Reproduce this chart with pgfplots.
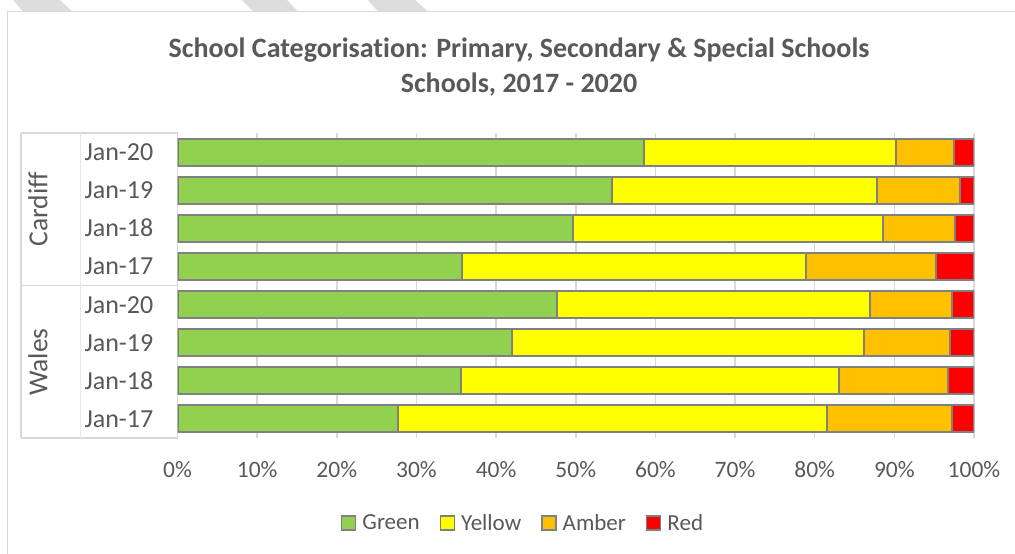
\documentclass[border=0pt]{standalone}
\usepackage{fontspec}
\setmainfont{Carlito}[Ligatures=NoCommon]
\usepackage{pgfplots}
\pgfplotsset{compat=1.18}
\definecolor{cgreen}{HTML}{92D050}
\definecolor{cyellow}{HTML}{FFFF00}
\definecolor{camber}{HTML}{FFC000}
\definecolor{cred}{HTML}{FF0000}
\definecolor{cborder}{HTML}{808080}
\definecolor{cgrid}{HTML}{D9D9D9}
\definecolor{ctext}{HTML}{595959}
\definecolor{cstripe}{HTML}{DDDDDD}
\begin{document}
\begin{tikzpicture}
\begin{scope}[x=1pt,y=1pt]
\useasboundingbox (0,0) rectangle (1015,554);
\fill[white] (0,0) rectangle (1015,554);
% stripes at the top edge
\fill[cstripe] (13,554) -- (60,554) -- (72,542.5) -- (23,542.5) -- cycle;
\fill[cstripe] (242,554) -- (287,554) -- (298,542.5) -- (253,542.5) -- cycle;
\fill[cstripe] (368,554) -- (415,554) -- (428,542.5) -- (378,542.5) -- cycle;
% chart frame
\draw[cgrid, line width=1.5pt] (7.5,-5) -- (7.5,542.3) -- (1025,542.3);
% title
\node[text=ctext, font=\bfseries\fontsize{28}{32}\selectfont] at (519,504) {School Categorisation: Primary, Secondary \& Special Schools};
\node[text=ctext, font=\bfseries\fontsize{28}{32}\selectfont] at (519,469) {Schools, 2017 - 2020};
% category table
\draw[cgrid, line width=1.2pt] (21,421) -- (177.5,421);
\draw[cgrid, line width=1.2pt] (21,268.3) -- (177.5,268.3);
\draw[cgrid, line width=1.2pt] (21,116) -- (177.5,116);
\draw[cgrid, line width=1.2pt] (21,116) -- (21,421);
\draw[cgrid!60, line width=1pt] (80,116) -- (80,421);
\node[rotate=90, text=ctext, font=\fontsize{27.5}{31}\selectfont] at (38,345) {Cardiff};
\node[rotate=90, text=ctext, font=\fontsize{27.5}{31}\selectfont] at (38,192) {Wales};
\end{scope}

\begin{axis}[
  at={(177.5pt,116pt)}, anchor=south west,
  scale only axis, width=796.5pt, height=305pt,
  xbar stacked, bar width=27pt,
  xmin=0, xmax=100, ymin=-0.5, ymax=7.5,
  axis line style={draw=none},
  major tick length=0pt,
  xmajorgrids, grid style={cgrid, line width=1.5pt},
  xtick={0,10,...,100},
  xticklabels={0\%,10\%,20\%,30\%,40\%,50\%,60\%,70\%,80\%,90\%,100\%},
  ytick={0,...,7},
  yticklabels={Jan-17,Jan-18,Jan-19,Jan-20,Jan-17,Jan-18,Jan-19,Jan-20},
  xticklabel style={text=ctext, font=\fontsize{23.5}{28}\selectfont, inner sep=0pt, anchor=base, yshift=-39.5pt},
  yticklabel style={text=ctext, font=\fontsize{26}{30}\selectfont, inner sep=0pt, anchor=base east, xshift=-24pt, yshift=-8.5pt},
  legend columns=4,
  legend style={at={(0.4338,-0.2787)}, anchor=center, draw=none, fill=none,
    font=\fontsize{23}{27}\selectfont, text=ctext,
    nodes={inner sep=2pt},
    /tikz/every odd column/.append style={column sep=4pt},
    /tikz/every even column/.append style={column sep=18pt}},
  legend image code/.code={\draw[#1, draw=cborder, line width=1.5pt] (0pt,-7pt) rectangle (14pt,7pt);},
]
\addplot[fill=cgreen, draw=cborder, line width=2pt] coordinates {
  (27.7,0) (35.6,1) (42.0,2) (47.6,3) (35.7,4) (49.6,5) (54.5,6) (58.6,7)};
\addplot[fill=cyellow, draw=cborder, line width=2pt] coordinates {
  (53.8,0) (47.5,1) (44.2,2) (39.3,3) (43.2,4) (39.0,5) (33.3,6) (31.6,7)};
\addplot[fill=camber, draw=cborder, line width=2pt] coordinates {
  (15.7,0) (13.6,1) (10.8,2) (10.3,3) (16.3,4) (9.0,5) (10.5,6) (7.3,7)};
\addplot[fill=cred, draw=cborder, line width=2pt] coordinates {
  (2.8,0) (3.3,1) (3.0,2) (2.8,3) (4.8,4) (2.4,5) (1.7,6) (2.5,7)};
\legend{Green,Yellow,Amber,Red}
\end{axis}
\end{tikzpicture}
\end{document}
